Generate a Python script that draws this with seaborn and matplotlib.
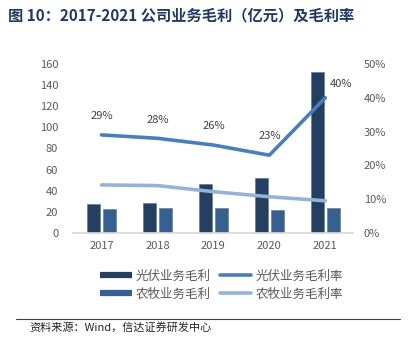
import matplotlib
matplotlib.use("Agg")
import matplotlib.pyplot as plt
import seaborn as sns
import pandas as pd
from matplotlib.lines import Line2D

years = ["2017", "2018", "2019", "2020", "2021"]
pv_profit = [27, 28, 46, 52, 152]
agri_profit = [23, 24, 24, 22, 24]
pv_margin = [29, 28, 26, 23, 40]
agri_margin = [14.2, 14.0, 12.2, 10.7, 9.5]
pv_labels = ["29%", "28%", "26%", "23%", "40%"]
left_ticks = [0, 20, 40, 60, 80, 100, 120, 140, 160]
right_ticks = [0, 10, 20, 30, 40, 50]

s_pv = "光伏业务毛利"
s_ag = "农牧业务毛利"
s_pvr = "光伏业务毛利率"
s_agr = "农牧业务毛利率"

c_pv = "#243F60"
c_ag = "#376092"
c_pvr = "#4A7EBB"
c_agr = "#95B3D7"

sns.set_theme(style="white")
plt.rcParams["font.family"] = ["Noto Sans CJK SC", "DejaVu Sans"]

fig = plt.figure(figsize=(4.08, 3.42), dpi=100)
ax = fig.add_axes([0.180, 0.319, 0.686, 0.494])

df = pd.DataFrame({
    "year": years * 2,
    "value": pv_profit + agri_profit,
    "series": [s_pv] * 5 + [s_ag] * 5,
})
sns.barplot(data=df, x="year", y="value", hue="series", order=years,
            hue_order=[s_pv, s_ag], palette=[c_pv, c_ag], width=0.571, gap=0.206,
            saturation=1, ax=ax, legend=False, edgecolor="#5A7290", linewidth=0.4)
ax.set_ylim(0, 160)
ax.set_xlim(-0.5, 4.5)
ax.set_yticks(left_ticks)
ax.set_xlabel("")
ax.set_ylabel("")
for sp in ["top", "left", "right"]:
    ax.spines[sp].set_visible(False)
ax.spines["bottom"].set_color("#D9D9D9")
ax.tick_params(axis="both", length=0, labelsize=8, colors="#595959")
ax.tick_params(axis="y", pad=11)
ax.tick_params(axis="x", pad=6)

ax2 = ax.twinx()
ldf = pd.DataFrame({
    "x": list(range(5)) * 2,
    "rate": pv_margin + agri_margin,
    "series": [s_pvr] * 5 + [s_agr] * 5,
})
sns.lineplot(data=ldf, x="x", y="rate", hue="series", hue_order=[s_pvr, s_agr],
             palette=[c_pvr, c_agr], linewidth=2.6, ax=ax2, legend=False)
ax2.set_ylim(0, 50)
ax2.set_xlim(-0.5, 4.5)
ax2.set_yticks(right_ticks)
ax2.set_yticklabels([f"{t}%" for t in right_ticks])
ax2.set_xlabel("")
ax2.set_ylabel("")
for sp in ["top", "left", "right", "bottom"]:
    ax2.spines[sp].set_visible(False)
ax2.tick_params(axis="y", length=0, labelsize=8, colors="#595959", pad=7.5)

for i, (v, lab) in enumerate(zip(pv_margin, pv_labels)):
    if i == 4:
        ax2.annotate(lab, (i, v), xytext=(11, 10), textcoords="offset points",
                     ha="center", va="center", fontsize=8, color="#404040")
    else:
        ax2.annotate(lab, (i, v), xytext=(0, 13.5), textcoords="offset points",
                     ha="center", va="center", fontsize=8, color="#404040")

handles = [
    Line2D([0], [0], color=c_pv, lw=4.5, solid_capstyle="butt"),
    Line2D([0], [0], color=c_ag, lw=4.5, solid_capstyle="butt"),
    Line2D([0], [0], color=c_pvr, lw=2.6, solid_capstyle="round"),
    Line2D([0], [0], color=c_agr, lw=2.6, solid_capstyle="round"),
]
fig.legend(handles, [s_pv, s_ag, s_pvr, s_agr], ncol=2, loc="center",
           bbox_to_anchor=(0.543, 0.167), frameon=False, fontsize=9,
           labelcolor="#595959", handlelength=2.5, handletextpad=0.35,
           columnspacing=0.7, labelspacing=0.4)

fig.text(0.02, 0.955, "图 10：2017-2021 公司业务毛利（亿元）及毛利率",
         fontsize=11, fontweight="bold", color="#1F3864", va="center")

fig.add_artist(Line2D([0.04, 0.98], [0.068, 0.068], color="#404040", lw=0.8,
                      transform=fig.transFigure))
fig.text(0.072, 0.042, "资料来源：Wind，信达证券研发中心", fontsize=8,
         color="#222222", va="center", style="italic")

fig.savefig("out.png", dpi=100)
